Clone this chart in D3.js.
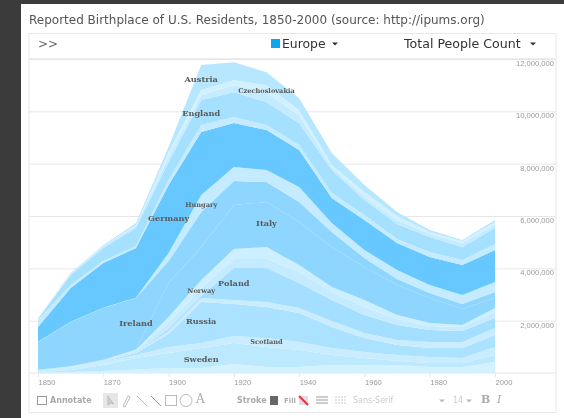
<!DOCTYPE html>
<html>
<head>
<meta charset="utf-8">
<title>Reported Birthplace of U.S. Residents</title>
<script src="https://cdn.jsdelivr.net/npm/d3@7"></script>
<style>
  html, body { margin: 0; padding: 0; background: #3b3b3b; overflow: hidden; }
  svg { display: block; font-family: "DejaVu Sans", sans-serif; filter: blur(0.6px); }
  .axis text { font-size: 7.6px; fill: #999; }
  .axis .domain { stroke: #e6e6e6; }
  .axis .tick line { stroke: #e6e6e6; }
  .area-label { font-family: "DejaVu Serif", serif; font-weight: bold; fill: #5a5a5a; text-anchor: middle; dominant-baseline: central; }
  .tool { fill: #aaa; font-size: 8px; }
</style>
</head>
<body>
<svg id="chart" width="564" height="418"></svg>
<script>
  /*
    Stacked area of european born residents, people in thousands
    The years are not evenly spaced on purpose, 1890 is missing from the source
  */
  const years = [1850, 1860, 1870, 1880, 1900, 1910, 1920, 1930, 1940, 1950, 1960, 1970, 1980, 1990, 2000];
  const yearTicks = [1850, 1870, 1900, 1920, 1940, 1960, 1980, 2000];
  const countTicks = [2000, 4000, 6000, 8000, 10000, 12000];

  const denmark = [19, 38, 76, 134, 191, 191, 344, 229, 229, 306, 306, 306, 229, 229, 420];
  const sweden = [19, 76, 229, 439, 573, 764, 802, 764, 649, 382, 267, 153, 153, 153, 267];
  const scotland = [38, 76, 115, 115, 229, 191, 267, 344, 306, 267, 229, 229, 229, 191, 306];
  const russia = [11, 11, 19, 76, 497, 1566, 1222, 1184, 1108, 802, 535, 382, 344, 382, 458];
  const norway = [8, 15, 19, 38, 115, 153, 153, 191, 191, 229, 191, 191, 229, 229, 267];
  const poland = [8, 11, 19, 19, 76, 76, 1222, 1299, 955, 802, 688, 573, 458, 420, 382];
  const netherlands = [8, 8, 11, 27, 229, 306, 344, 344, 420, 306, 306, 229, 153, 153, 229];
  const greece = [4, 11, 8, 31, 229, 306, 382, 458, 267, 191, 267, 153, 115, 76, 153];
  const italy = [8, 8, 8, 19, 1299, 1261, 1681, 1719, 1643, 1528, 1261, 1146, 955, 611, 382];
  const ireland = [1062, 1692, 1979, 1967, 840, 1337, 917, 764, 764, 573, 344, 229, 191, 191, 229];
  const hungary = [8, 8, 8, 8, 306, 649, 535, 458, 573, 344, 306, 344, 306, 344, 382];
  const germany = [565, 1291, 1711, 1902, 2598, 2407, 1681, 1528, 1413, 955, 1146, 1031, 1070, 1146, 1222];
  const france = [267, 115, 76, 76, 191, 267, 229, 191, 191, 191, 191, 153, 191, 191, 229];
  const england = [38, 382, 497, 688, 688, 955, 955, 879, 840, 879, 573, 573, 573, 497, 611];
  const czechoslovakia = [19, 38, 76, 76, 191, 191, 267, 382, 306, 115, 115, 153, 115, 153, 115];
  const otherEurope = [11, 15, 11, 38, 191, 191, 191, 267, 191, 76, 191, 153, 76, 76, 115];
  const austria = [8, 23, 27, 76, 191, 955, 688, 497, 458, 458, 267, 153, 76, 38, 76];

  const seriesNames = ['Denmark', 'Sweden', 'Scotland', 'Russia', 'Norway', 'Poland', 'Netherlands', 'Greece',
    'Italy', 'Ireland', 'Hungary', 'Germany', 'France', 'England', 'Czechoslovakia', 'Other', 'Austria'];
  const seriesValues = [denmark, sweden, scotland, russia, norway, poland, netherlands, greece,
    italy, ireland, hungary, germany, france, england, czechoslovakia, otherEurope, austria];
  const seriesColors = ['#d3f1ff', '#bde9ff', '#c9edff', '#abe2ff', '#c9edff', '#a4dfff', '#c4ebff', '#cdefff',
    '#8fd6ff', '#8fd6ff', '#c4ebff', '#66c8ff', '#c4ebff', '#a6e0ff', '#c4ebff', '#d2f1ff', '#b7e6ff'];

  // Only the bigger countries get a name on the chart
  const labelNames = ['Austria', 'Czechoslovakia', 'England', 'Germany', 'Hungary', 'Ireland', 'Italy', 'Norway', 'Poland', 'Russia', 'Scotland', 'Sweden'];
  const labelYears = [1910, 1930, 1910, 1900, 1910, 1880, 1930, 1910, 1920, 1910, 1930, 1910];
  const labelCounts = [11230, 10770, 9930, 5920, 6420, 1910, 5730, 3130, 3440, 1990, 1180, 530];
  const smallLabels = ['Czechoslovakia', 'Hungary', 'Norway', 'Scotland'];

  const WIDTH = 564;
  const HEIGHT = 418;
  const plot = { left: 29, right: 556, x0: 38, x1: 495, top: 59, bottom: 373 };

  const dom = {};
  dom.svg = d3.select('#chart');

  /**
   * Create scales
   */
  const scale = {};
  scale.x = d3.scalePoint().domain(years).range([plot.x0, plot.x1]);
  scale.y = d3.scaleLinear().domain([0, 12000]).range([plot.bottom, plot.top]);

  /**
   * Panel and boxes behind the chart
   */
  function renderFrame() {
    dom.svg.append('rect')
      .attr('x', 21).attr('y', 4)
      .attr('width', WIDTH - 21).attr('height', HEIGHT - 4)
      .attr('fill', '#fff');

    dom.svg.append('rect')
      .attr('x', plot.left).attr('y', 33.5)
      .attr('width', plot.right - plot.left).attr('height', 379)
      .attr('fill', '#fff')
      .attr('stroke', '#e8e8e8');

    dom.svg.append('line')
      .attr('x1', plot.left).attr('x2', plot.right)
      .attr('y1', 58.5).attr('y2', 58.5)
      .attr('stroke', '#eee');

    dom.svg.append('text')
      .attr('x', 29).attr('y', 24)
      .attr('fill', '#555')
      .style('font-size', '12px')
      .text('Reported Birthplace of U.S. Residents, 1850-2000 (source: http://ipums.org)');
  }

  /**
   * Axes, the y axis ticks double as the grid
   */
  function renderAxis() {
    const axisY = d3.axisRight(scale.y)
      .tickValues(countTicks)
      .tickSize(plot.right - plot.left)
      .tickFormat(d => d3.format(',')(d * 1000));

    dom.svg.append('g')
      .attr('class', 'axis')
      .attr('transform', `translate(${plot.left}, 0)`)
      .call(axisY)
      .call(g => g.select('.domain').remove())
      .call(g => g.selectAll('.tick line').attr('stroke', '#eee'))
      .call(g => g.selectAll('.tick text')
        .attr('x', plot.right - plot.left - 2)
        .attr('dy', 6.5)
        .attr('text-anchor', 'end'));

    const axisX = d3.axisBottom(scale.x)
      .tickValues(yearTicks)
      .tickSize(4)
      .tickPadding(3);

    dom.svg.append('g')
      .attr('class', 'axis')
      .attr('transform', `translate(0, ${plot.bottom})`)
      .call(axisX)
      .call(g => g.select('.domain').attr('d', `M${plot.left},0H${plot.right}`))
      .call(g => g.selectAll('.tick text').attr('text-anchor', 'start'));
  }

  /**
   * Stack the countries and draw them bottom up
   */
  function renderAreas() {
    const rows = years.map((year, i) => {
      const row = { year };
      seriesNames.forEach((name, s) => { row[name] = seriesValues[s][i]; });
      return row;
    });
    const stack = d3.stack().keys(seriesNames);
    const area = d3.area()
      .x(d => scale.x(d.data.year))
      .y0(d => scale.y(d[0]))
      .y1(d => scale.y(d[1]));
    const color = d3.scaleOrdinal().domain(seriesNames).range(seriesColors);

    dom.svg.append('g')
      .selectAll('path')
      .data(stack(rows))
      .join('path')
      .attr('d', area)
      .attr('fill', d => color(d.key));

    dom.svg.append('g')
      .selectAll('text')
      .data(labelNames)
      .join('text')
      .attr('class', 'area-label')
      .attr('x', (d, i) => scale.x(labelYears[i]))
      .attr('y', (d, i) => scale.y(labelCounts[i]))
      .style('font-size', d => smallLabels.includes(d) ? '6.6px' : '8.2px')
      .text(d => d);
  }

  /**
   * Small filled triangle used by the dropdowns
   */
  function caret(x, y, color) {
    dom.svg.append('path')
      .attr('d', `M${x - 3},${y - 1.5}h6l-3,3z`)
      .attr('fill', color);
  }

  function renderHeader() {
    dom.svg.append('text')
      .attr('x', 38).attr('y', 48)
      .attr('fill', '#666')
      .style('font-size', '12px')
      .text('>>');

    dom.svg.append('rect')
      .attr('x', 271).attr('y', 39)
      .attr('width', 9).attr('height', 9)
      .attr('fill', '#0ea5f0');

    dom.svg.append('text')
      .attr('x', 282).attr('y', 48)
      .attr('fill', '#333')
      .style('font-size', '12.4px')
      .text('Europe');
    caret(335, 44, '#333');

    dom.svg.append('text')
      .attr('x', 404).attr('y', 48)
      .attr('fill', '#333')
      .style('font-size', '12.6px')
      .text('Total People Count');
    caret(533, 44, '#333');
  }

  /*
   * Annotation toolbar at the bottom
   */
  function renderToolbar() {
    const bar = dom.svg.append('g');
    const line = { stroke: '#bbb', fill: 'none' };
    const shape = (tag, attrs) => {
      const el = bar.append(tag);
      Object.entries({ ...line, ...attrs }).forEach(([k, v]) => el.attr(k, v));
      return el;
    };
    const label = (x, text, size, family) => bar.append('text')
      .attr('class', 'tool')
      .attr('x', x).attr('y', 403)
      .style('font-size', size || '8px')
      .style('font-family', family || null)
      .text(text);

    shape('rect', { x: 37.5, y: 396.5, width: 9, height: 8, stroke: '#999' });
    label(50, 'Annotate').style('font-weight', 'bold');

    shape('rect', { x: 103, y: 393, width: 15, height: 15, fill: '#e6e6e6', stroke: 'none' });
    shape('path', { d: 'M108,396v9l2.5,-2l3,1z', fill: '#d0d0d0' });
    shape('path', { d: 'M123,406l5,-10l2,1l-5,10z' });
    shape('path', { d: 'M137,396l10,10' });
    shape('path', { d: 'M151,396l10,10', stroke: '#999' });
    shape('rect', { x: 165.5, y: 395.5, width: 11, height: 10 });
    shape('circle', { cx: 186, cy: 400.5, r: 6 });
    label(196, 'A', '12px', '"DejaVu Serif", serif');

    label(237, 'Stroke').style('font-weight', 'bold');
    shape('rect', { x: 270, y: 396, width: 8, height: 9, fill: '#666', stroke: 'none' });
    label(284, 'Fill', '7px').style('font-weight', 'bold');
    shape('rect', { x: 299, y: 396, width: 9, height: 9, fill: '#dde', stroke: 'none' });
    shape('path', { d: 'M299,396l9,9', stroke: '#e33', 'stroke-width': 2 });
    shape('path', { d: 'M316,397h12M316,400h12M316,403h12', stroke: '#999' });
    shape('path', { d: 'M335,397h11M335,400h11M335,403h11', stroke: '#ccc', 'stroke-dasharray': '2 1' });
    label(353, 'Sans-Serif', '8px').style('fill', '#ccc');
    caret(442, 401, '#bbb');
    label(453, '14', '8px').style('fill', '#ccc');
    caret(469, 401, '#bbb');
    label(481, 'B', '11px', '"DejaVu Serif", serif').style('font-weight', 'bold');
    label(497, 'I', '11px', '"DejaVu Serif", serif').style('font-style', 'italic');
  }

  renderFrame();
  renderHeader();
  renderAxis();
  renderAreas();
  renderToolbar();
</script>
</body>
</html>
